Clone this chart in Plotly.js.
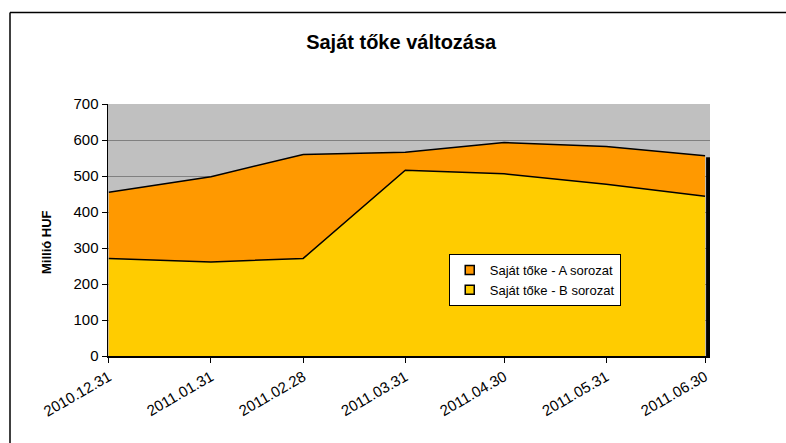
<!DOCTYPE html>
<html>
<head>
<meta charset="utf-8">
<script src="https://cdn.plot.ly/plotly-3.0.1.min.js"></script>
<style>html,body{margin:0;padding:0;background:#fff;}#chart{width:786px;height:443px;}</style>
</head>
<body>
<div id="chart"></div>
<script>
// Data
const dates = ['2010-12-31','2011-01-31','2011-02-28','2011-03-31','2011-04-30','2011-05-31','2011-06-30'];
const tickLabels = ['2010.12.31','2011.01.31','2011.02.28','2011.03.31','2011.04.30','2011.05.31','2011.06.30'];
const seriesA = [455, 498, 560, 566, 593, 582, 556];
const seriesB = [271, 261, 271, 516, 506, 477, 444];
const nameA = 'Saját tőke - A sorozat';
const nameB = 'Saját tőke - B sorozat';
const colorA = '#FF9900';
const colorB = '#FFCC00';

const FONT = 'Arial, "Liberation Sans", sans-serif';

const traces = [
  {x: dates, y: seriesA, name: nameA, type: 'scatter', mode: 'lines', fill: 'tozeroy',
   fillcolor: colorA, line: {color: '#000', width: 1.5}, showlegend: false},
  {x: dates, y: seriesB, name: nameB, type: 'scatter', mode: 'lines', fill: 'tozeroy',
   fillcolor: colorB, line: {color: '#000', width: 1.5}, showlegend: false},
  // legend keys (square swatches like the original)
  {x: [null], y: [null], name: nameA, type: 'scatter', mode: 'markers',
   marker: {symbol: 'square', size: 9, color: colorA, line: {color: '#000', width: 1.5}}},
  {x: [null], y: [null], name: nameB, type: 'scatter', mode: 'markers',
   marker: {symbol: 'square', size: 9, color: colorB, line: {color: '#000', width: 1.5}}}
];

const layout = {
  width: 786, height: 443,
  margin: {l: 108, r: 76, t: 104, b: 87},
  paper_bgcolor: '#fff',
  plot_bgcolor: '#C0C0C0',
  font: {family: FONT, color: '#000', size: 13},
  title: {text: '<b>Saját tőke változása</b>', x: 0.487, xref: 'paper', xanchor: 'center',
          y: 0.905, yref: 'container', yanchor: 'middle', font: {family: FONT, size: 20, color: '#000'}},
  xaxis: {
    type: 'date',
    range: ['2010-12-30 18:00', '2011-07-01 12:00'],
    tickvals: dates, ticktext: tickLabels, tickangle: -30,
    ticks: 'outside', ticklen: 5, tickcolor: '#000', tickwidth: 1,
    showline: true, linecolor: '#000', linewidth: 1.5,
    showgrid: false, zeroline: false,
    tickfont: {family: FONT, size: 15, color: '#000'}
  },
  yaxis: {
    range: [0, 700], dtick: 100, tick0: 0,
    ticks: 'outside', ticklen: 5, tickcolor: '#000', tickwidth: 1,
    showline: true, linecolor: '#000', linewidth: 1.5,
    showgrid: true, gridcolor: '#808080', gridwidth: 1, zeroline: false,
    tickfont: {family: FONT, size: 15, color: '#000'}
  },
  showlegend: true,
  legend: {x: 0.566, y: 0.405, xanchor: 'left', yanchor: 'top',
           bgcolor: '#fff', bordercolor: '#000', borderwidth: 1, itemwidth: 30,
           font: {family: FONT, size: 13, color: '#000'}, traceorder: 'normal'},
  annotations: [
    {text: '<b>Millió HUF</b>', textangle: -90, xref: 'paper', yref: 'paper',
     x: (46 - 108) / 602, y: (356 - 242) / 252, xanchor: 'center', yanchor: 'middle',
     showarrow: false, font: {family: FONT, size: 13, color: '#000'}}
  ],
  shapes: [
    // right-edge shadow of the area
    {type: 'rect', xref: 'paper', yref: 'y', x0: 0.9935, x1: 1.0, y0: 0, y1: seriesA[seriesA.length - 1] - 4,
     fillcolor: '#000', line: {width: 0}, layer: 'above'},
    // outer chart frame (left & top)
    {type: 'line', xref: 'paper', yref: 'paper', x0: (10 - 108) / 602, x1: (10 - 108) / 602,
     y0: -1, y1: (356 - 12.5) / 252, line: {color: '#000', width: 1.5}},
    {type: 'line', xref: 'paper', yref: 'paper', x0: (10 - 108) / 602, x1: 2,
     y0: (356 - 12.5) / 252, y1: (356 - 12.5) / 252, line: {color: '#000', width: 1.5}}
  ]
};

Plotly.newPlot('chart', traces, layout, {displayModeBar: false, staticPlot: true});
</script>
</body>
</html>
